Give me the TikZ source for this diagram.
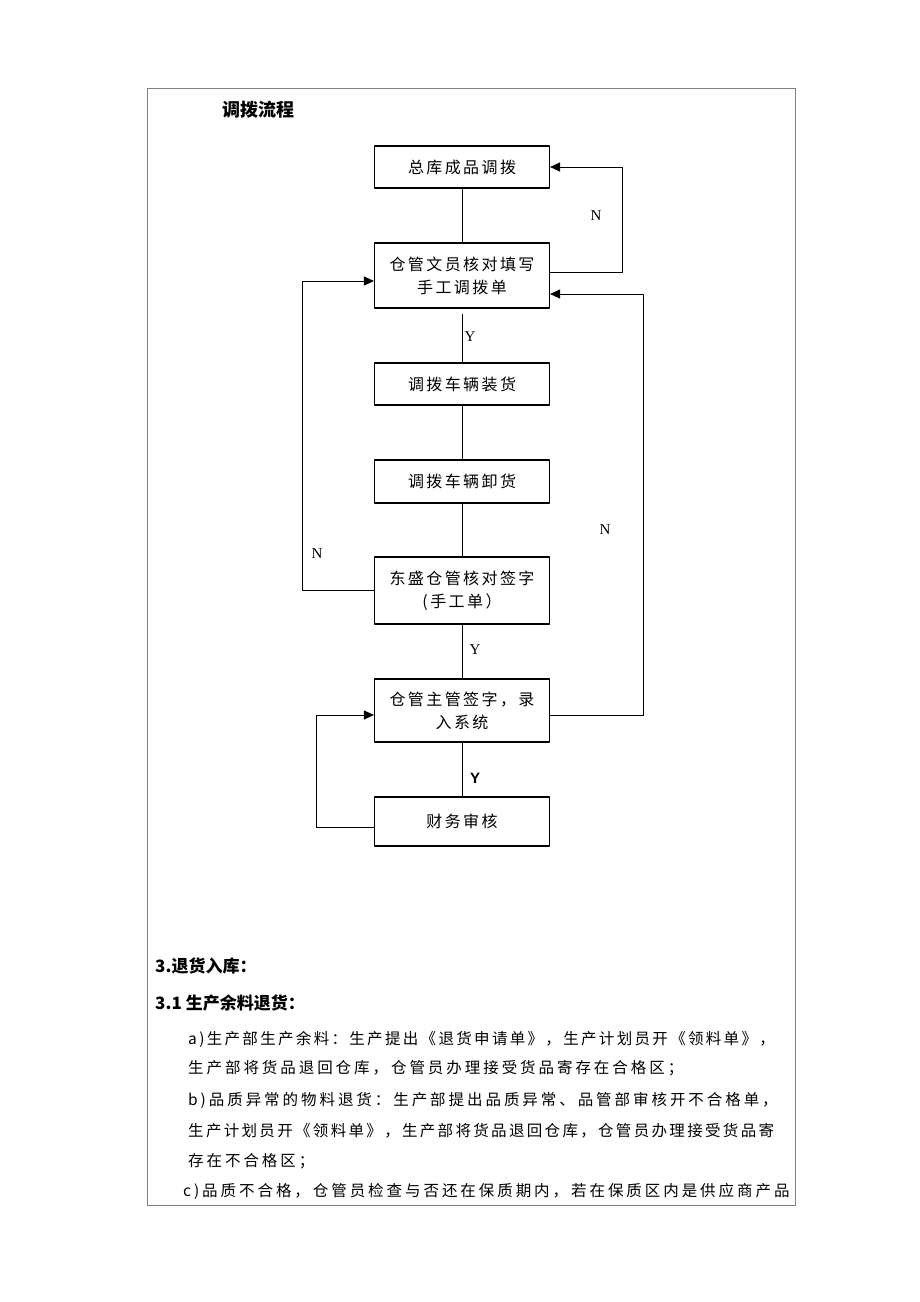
\documentclass[tikz,border=0pt]{standalone}
\usepackage{fontspec}
\setmainfont{Liberation Serif}
\setsansfont{Liberation Sans}
\newfontfamily\cjk[LetterSpace=15]{Noto Sans CJK SC}
\newfontfamily\cjkwide[LetterSpace=19]{Noto Sans CJK SC}
\newfontfamily\cjkhead{Noto Sans CJK SC}
\usetikzlibrary{arrows.meta}

\begin{document}
\begin{tikzpicture}[x=1pt, y=-1pt, line join=round,
		procbox/.style={draw, line width=1.1pt, minimum width=175pt, inner sep=0pt, align=center, font=\cjk\fontsize{16}{23}\selectfont},
		link/.style={line width=1pt},
		flow/.style={line width=1pt, -{Triangle[length=10pt, width=9pt]}},
		yn/.style={inner sep=0pt, font=\fontsize{15}{15}\selectfont},
		head/.style={anchor=west, inner sep=0pt, font=\cjkhead\bfseries\fontsize{17}{20}\selectfont},
		txt/.style={anchor=west, inner sep=0pt, font=\cjkwide\fontsize{15.5}{18}\selectfont}]
	\useasboundingbox (0,0) rectangle (920,1302);
	\draw[gray, line width=0.9pt] (147,88) rectangle (795,1205);
	\node[head, font=\cjkhead\bfseries\fontsize{18}{20}\selectfont] (title) at (222,110) {调拨流程};
	% flow boxes
	\node[procbox, minimum height=42pt] (b1) at (462,167) {总库成品调拨};
	\node[procbox, minimum height=65pt] (b2) at (462,275.5) {仓管文员核对填写\\手工调拨单};
	\node[procbox, minimum height=42pt] (b3) at (462,384) {调拨车辆装货};
	\node[procbox, minimum height=43pt] (b4) at (462,481.5) {调拨车辆卸货};
	\node[procbox, minimum height=67pt] (b5) at (462,590.5) {东盛仓管核对签字\\(手工单）};
	\node[procbox, minimum height=63pt] (b6) at (462,710.5) {仓管主管签字，录\\入系统};
	\node[procbox, minimum height=49pt] (b7) at (462,821.5) {财务审核};
	% turning points of the loops
	\coordinate (nA) at (622,272);
	\coordinate (nB) at (302,281);
	\coordinate (nC) at (643,294);
	\coordinate (nCb) at (643,715);
	\coordinate (nD) at (316,827);
	\coordinate (nDt) at (316,715);
	\draw[link] (b1.south) -- (b2.north);
	\draw[link] ([yshift=-5pt]b2.south) -- (b3.north);
	\foreach \u/\v in {b3/b4, b4/b5, b5/b6, b6/b7} \draw[link] (\u.south) -- (\v.north);
	\draw[flow] (b2.east |- nA) -- (nA) |- (b1.east);
	\draw[flow] (b5.west) -| (nB) -- (b2.west |- nB);
	\draw[flow] (b6.east |- nCb) -- (nCb) -- (nC) -- (b2.east |- nC);
	\draw[flow] (b7.west |- nD) -- (nD) -- (nDt) -- (b6.west |- nDt);
	% Y / N marks
	\node[yn] (lN1) at (596,216) {N};
	\node[yn] (lY1) at (470,337) {Y};
	\node[yn] (lN2) at (317,554) {N};
	\node[yn] (lN3) at (605,530) {N};
	\node[yn] (lY2) at (475,650) {Y};
	\node[yn, font=\sffamily\bfseries\fontsize{15}{15}\selectfont] (lY3) at (475,778) {Y};
	% text below the chart
	\node[head] (h1) at (155,966) {3.退货入库：};
	\node[head] (h2) at (155,1003) {3.1 生产余料退货：};
	\node[txt, font=\cjk\fontsize{15.5}{18}\selectfont] (p1) at (188,1039) {a)生产部生产余料：生产提出《退货申请单》，生产计划员开《领料单》，};
	\node[txt] (p2) at (188,1068) {生产部将货品退回仓库，仓管员办理接受货品寄存在合格区；};
	\node[txt] (p3) at (188,1100) {b)品质异常的物料退货：生产部提出品质异常、品管部审核开不合格单，};
	\node[txt, font=\cjk\fontsize{15.5}{18}\selectfont] (p4) at (188,1131) {生产计划员开《领料单》，生产部将货品退回仓库，仓管员办理接受货品寄};
	\node[txt] (p5) at (188,1161) {存在不合格区；};
	\node[txt] (p6) at (183,1191) {c)品质不合格，仓管员检查与否还在保质期内，若在保质区内是供应商产品};
\end{tikzpicture}
\end{document}
